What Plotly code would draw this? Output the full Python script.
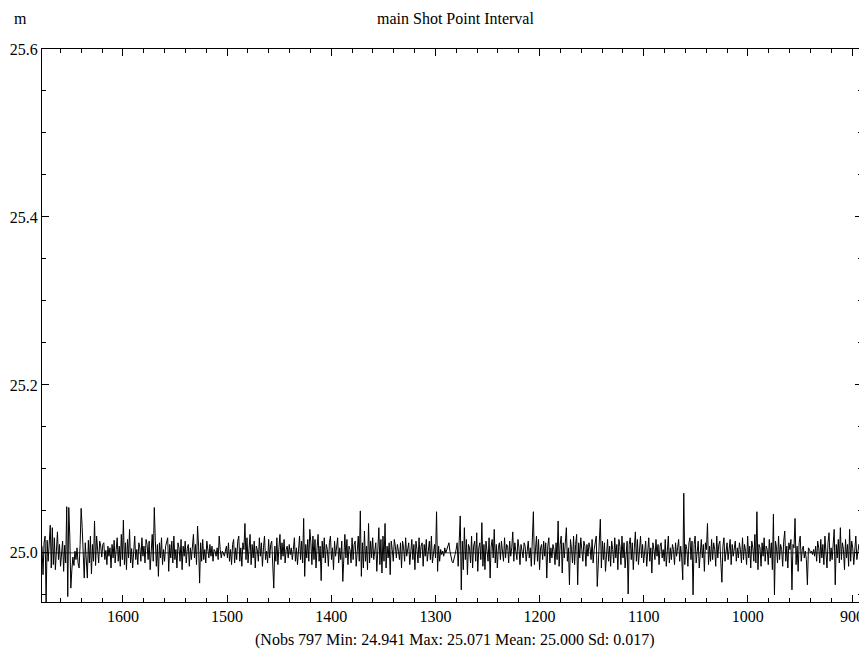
import numpy as np
import plotly.graph_objects as go

# Shot point interval deviations from 25 m, in millimetres
dev_00 = [8,-26,12,20,-59,15,-10,22,33,-18,30,-14,18,-20,6,25,-8,10,-16,4,14,-22,9,-12,55,-52,54,20,-42,-20,-5,-15,2,-8,6,-12,-18,10,53,30,-10,-30,12,-8,-30,15,-12,20,-25,10]
dev_01 = [-10,38,-15,20,5,-12,14,8,-5,10,12,-8,3,-14,8,-4,6,-18,10,-6,15,-12,4,18,-10,8,-16,22,-8,39,-14,12,-20,16,-6,28,-12,5,-18,10,20,-8,4,-14,12,6,-10,18,-4,8]
dev_02 = [-12,16,10,-8,14,-20,6,22,-10,54,15,-16,10,-28,12,-6,18,-14,4,-10,8,12,18,-22,10,-6,14,-12,20,-8,4,-18,12,6,-10,16,-20,8,-4,14,-12,5,10,-16,6,-8,12,22,-6,10]
dev_03 = [-14,32,8,-36,12,-10,16,-8,4,-12,14,6,-6,10,-4,8,-10,4,2,-4,6,-8,20,4,-6,2,0,-4,3,8,-6,12,-10,4,-14,10,16,-12,6,-8,14,20,-10,6,-16,12,4,35,-8,18]
dev_04 = [-12,6,22,-14,10,-6,14,-18,8,4,-10,18,-4,12,-16,6,20,-8,2,-12,16,-6,10,14,-20,-42,8,-10,18,-14,6,22,-8,12,-4,16,-12,4,8,-6,10,-2,6,-8,4,18,-10,6,-14,12]
dev_05 = [20,-8,14,-12,41,-28,10,-6,16,-10,28,12,-14,20,-8,16,-18,6,22,-10,8,-33,14,-6,18,-12,10,4,-16,12,20,-8,6,-20,14,-4,10,18,-12,6,-8,14,-34,10,22,-6,16,-14,8,4]
dev_06 = [-12,18,-8,10,14,-16,6,20,-10,50,-28,12,-18,26,-10,8,-20,35,-12,14,-6,18,-8,4,12,-22,10,30,-14,16,-24,20,-10,35,-18,8,-6,12,-26,14,4,-10,16,8,-6,10,2,-8,12,-18]
dev_07 = [14,6,-10,18,-4,8,12,-14,6,16,-8,10,-20,14,4,-12,18,-6,8,12,-16,10,-4,16,-10,6,14,-8,20,-12,4,10,-6,49,-22,8,-10,4,-2,2,-4,6,0,4,8,12,2,-6,-10,-12]
dev_08 = [-8,-2,4,12,-16,20,44,-44,14,-20,30,-8,16,-26,10,6,-12,20,-18,8,14,-10,24,-22,6,12,-8,36,-16,10,-20,14,4,-10,18,-30,8,16,-6,28,-12,10,-18,6,12,-8,14,4,-10,18]
dev_09 = [-6,10,8,-12,14,-4,6,25,-10,12,4,-8,16,6,-14,10,2,-6,12,8,-10,4,14,-6,6,-16,10,49,-14,8,20,-10,16,-20,6,10,-8,14,-4,12,-30,8,18,-12,6,-6,10,4,-14,12]
dev_10 = [-8,38,-16,10,20,-24,12,-6,14,30,-10,6,-38,16,4,-12,20,-14,10,22,-38,12,-6,18,4,-10,14,8,-16,10,-4,12,6,-8,16,-12,4,10,20,-40,-10,8,40,-18,14,-8,12,-22,6,16]
dev_11 = [-10,8,-16,14,4,-12,18,-6,10,-20,16,8,-14,20,-6,12,-18,6,14,-49,10,18,-8,12,-20,6,25,-10,16,-14,8,20,-6,10,-12,4,14,-16,8,18,-10,6,-24,12,4,-8,16,-4,10,-14]
dev_12 = [8,12,-6,4,-10,16,-16,8,20,-12,6,-8,10,4,-14,12,-4,6,16,-10,8,-6,-32,71,-14,10,4,-16,12,18,-8,14,-50,10,20,-12,6,14,-18,8,16,-6,10,-22,12,4,35,-14,8,-10]
dev_13 = [16,-8,12,4,-16,20,-6,10,14,-12,-35,8,18,-10,6,12,-8,4,16,-14,10,-4,8,14,-10,6,-6,12,4,-12,18,-8,10,2,-14,20,-6,8,-18,14,6,-10,22,-12,49,-20,10,6,-16,12]
dev_14 = [-4,18,-10,8,4,-14,16,-6,12,-20,46,-50,14,6,-12,20,-8,10,4,-16,14,26,-10,8,-18,12,4,16,-44,10,6,41,-14,8,-22,12,20,-10,4,8,-6,2,-8,-38,6,4,0,2,-2,4]
dev_15 = [-4,8,-10,14,6,-12,16,-6,10,-14,20,4,-18,12,24,-10,6,-8,14,28,-38,10,-6,16,-12,30,-8,12,4,-20,16,-6,10,-16,28,-10,14,6,-14,12,20,-8,4,10,-4,8,20]

deviations_mm = (dev_00 + dev_01 + dev_02 + dev_03 + dev_04 + dev_05 + dev_06 + dev_07
                 + dev_08 + dev_09 + dev_10 + dev_11 + dev_12 + dev_13 + dev_14 + dev_15)
nominal_interval = 25.0
interval_m = [nominal_interval + d / 1000.0 for d in deviations_mm]

shot_first = 1677.7
shot_last = 890.4
shot_points = np.linspace(shot_first, shot_last, len(interval_m))

x_ticks = [1600, 1500, 1400, 1300, 1200, 1100, 1000, 900]
y_ticks = [25.0, 25.2, 25.4, 25.6]

title_text = "main Shot Point Interval"
unit_text = "m"
stats_text = "(Nobs 797 Min: 24.941 Max: 25.071 Mean: 25.000 Sd: 0.017)"

FONT = "Liberation Serif, Times New Roman, serif"
FS = 16

fig = go.Figure()
fig.add_trace(go.Scatter(
    x=shot_points, y=interval_m, mode="lines",
    line=dict(color="black", width=1),
    hoverinfo="skip", showlegend=False,
))

fig.add_shape(type="line", xref="paper", yref="y", x0=0, x1=1,
              y0=nominal_interval, y1=nominal_interval,
              line=dict(color="black", width=0.8), layer="below")

axis_common = dict(
    showgrid=False, zeroline=False, showline=True, linecolor="black",
    linewidth=1, mirror="allticks", ticks="inside", ticklen=7,
    tickwidth=1, tickcolor="black", automargin=False,
    tickfont=dict(family=FONT, size=FS, color="#000000"),
)

fig.update_layout(
    width=859, height=647,
    paper_bgcolor="white", plot_bgcolor="white",
    margin=dict(l=34, r=5, t=41, b=53, autoexpand=False),
    font=dict(family=FONT, size=FS, color="#000000"),
    xaxis=dict(range=[shot_first, shot_last], tickvals=x_ticks,
               minor=dict(dtick=20, ticks="inside", ticklen=4, tickcolor="black", tickwidth=1, showgrid=False),
               **axis_common),
    yaxis=dict(range=[24.9415, 25.6], tickvals=y_ticks, tickformat=".1f",
               minor=dict(dtick=0.05, tick0=25.0, ticks="inside", ticklen=4, tickcolor="black", tickwidth=1, showgrid=False),
               **axis_common),
    annotations=[
        dict(text=unit_text, xref="paper", yref="paper", x=0, y=1.0, yshift=31,
             xanchor="center", yanchor="middle", showarrow=False, xshift=-22,
             font=dict(family=FONT, size=FS, color="#000000")),
        dict(text=title_text, xref="paper", yref="paper", x=0.5, y=1.0, yshift=31,
             xanchor="center", yanchor="middle", showarrow=False, xshift=3,
             font=dict(family=FONT, size=FS, color="#000000")),
        dict(text=stats_text, xref="paper", yref="paper", x=0.5, y=0.0, yshift=-38,
             xanchor="center", yanchor="middle", showarrow=False, xshift=3,
             font=dict(family=FONT, size=FS, color="#000000")),
    ],
)

fig.write_html("out.html")
